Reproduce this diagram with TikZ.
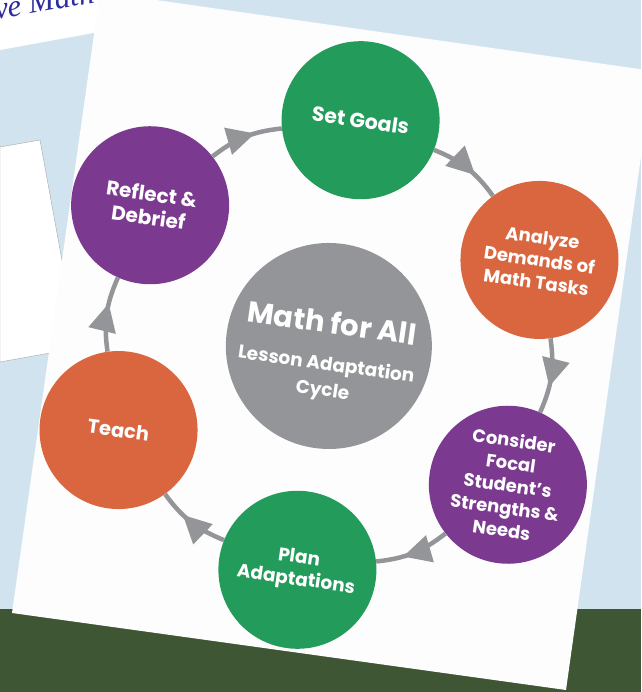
\documentclass[tikz,border=0pt]{standalone}
\usepackage{fontspec}
\setmainfont{Poppins}
\newfontfamily\slidefont{Liberation Serif}
\usetikzlibrary{arrows.meta,decorations.markings}
\definecolor{sky}{HTML}{D0E3EE}
\definecolor{grass}{HTML}{3E5634}
\definecolor{sheet}{HTML}{FDFDFD}
\definecolor{cgreen}{HTML}{229B5B}
\definecolor{corange}{HTML}{D9663F}
\definecolor{cpurple}{HTML}{7B3A8F}
\definecolor{cgray}{HTML}{939598}
\definecolor{ink}{HTML}{2C2C9E}
\newcommand\bigline{\fontsize{29}{34}\selectfont}
\newcommand\subline{\fontsize{18.5}{22}\selectfont}

\begin{document}
\begin{tikzpicture}[x=1pt,y=1pt,
  stage/.style={circle,minimum size=158pt,inner sep=0pt,align=center,
                text=white,font=\fontsize{18.5}{22.5}\selectfont\bfseries},
  hub/.style={circle,fill=cgray,minimum size=206pt,inner sep=0pt},
  hubtext/.style={inner sep=0pt,align=center,text=white,
                  font=\fontsize{18.5}{26}\selectfont\bfseries},
  ar/.style={cgray,line width=4.5pt,bend left=16,postaction={decorate},
             decoration={markings,mark=at position 0.64 with
               {\arrow{Triangle[length=28pt,width=27pt]}}}}]
\useasboundingbox (0,0) rectangle (641,692);
\clip (0,0) rectangle (641,692);
\fill[sky] (0,0) rectangle (641,692);
\fill[grass] (0,0) rectangle (641,83);
% sheets lying under the handout
\fill[white] (0,642) -- (110,662) -- (130,692) -- (0,692) -- cycle;
\node[anchor=base west,rotate=10,inner sep=0pt,text=ink,
      font=\slidefont\itshape\fontsize{31}{34}\selectfont] (title) at (-4,672) {ve Math};
\filldraw[fill=white,draw=black!35,thin] (0,545) -- (40,552) -- (78,344) -- (0,330) -- cycle;
\fill[sheet] (100,700) -- (653,621) -- (566,2) -- (12,79) -- cycle;
% the cycle
\begin{scope}[shift={(329,347)},rotate=-8,transform shape]
\node[hub] (hub) at (0,-1) {};
\node[hubtext] (hubtext) at (0,-11) {\bigline Math for All\\[11pt]
  \subline Lesson Adaptation\\\subline Cycle};
\node[stage,fill=cgreen,font=\fontsize{20.5}{24}\selectfont\bfseries] (goals) at (90:227) {Set Goals};
\node[stage,fill=corange,font=\fontsize{18}{22.5}\selectfont\bfseries] (demands) at (30:227) {Analyze\\Demands of\\Math Tasks};
\node[stage,fill=cpurple,font=\fontsize{18}{22.5}\selectfont\bfseries] (focal) at (-30:227) {Consider\\Focal\\Student’s\\Strengths \&\\Needs};
\node[stage,fill=cgreen] (plan) at (-90:227) {Plan\\Adaptations};
\node[stage,fill=corange,font=\fontsize{19.5}{24}\selectfont\bfseries] (teach) at (-150:227) {Teach};
\node[stage,fill=cpurple,font=\fontsize{20}{23.5}\selectfont\bfseries] (reflect) at (150:227) {Reflect \&\\Debrief};
\draw[ar] (goals) to (demands);
\draw[ar] (demands) to (focal);
\draw[ar] (focal) to (plan);
\draw[ar] (plan) to (teach);
\draw[ar] (teach) to (reflect);
\draw[ar] (reflect) to (goals);
\end{scope}
\end{tikzpicture}
\end{document}
